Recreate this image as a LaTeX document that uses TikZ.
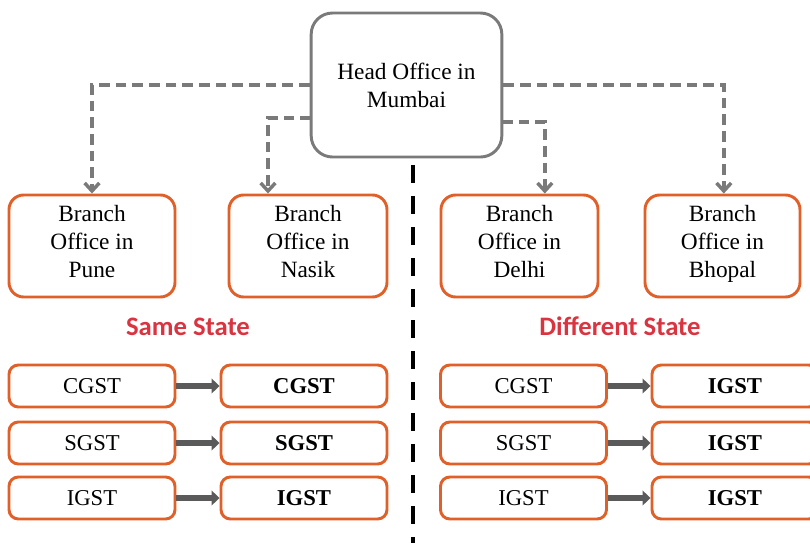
\documentclass[tikz,border=0pt]{standalone}
\usepackage{fontspec}
\setmainfont{Liberation Serif}
\newfontfamily\statefont{Carlito}
\usetikzlibrary{arrows.meta, positioning}

\definecolor{boxorange}{HTML}{E0602A}
\definecolor{linkgray}{HTML}{7A7A7A}
\definecolor{fatgray}{HTML}{5A5A5A}
\definecolor{statered}{HTML}{D9343F}

\tikzset{
  head/.style={draw=linkgray, line width=2.2pt, rounded corners=16pt, align=center,
    minimum width=143pt, minimum height=108pt, font=\fontsize{17.5}{21}\selectfont},
  office/.style={draw=boxorange, line width=2.2pt, rounded corners=11pt, align=center,
    minimum height=76.5pt, inner sep=0pt, font=\fontsize{17.5}{21}\selectfont,
    execute at end node=\strut},
  tax/.style={draw=boxorange, line width=2.2pt, rounded corners=7pt,
    minimum width=124.5pt, minimum height=31.5pt, font=\fontsize{17}{20}\selectfont},
  link/.style={draw=linkgray, line width=2.6pt, dash pattern=on 8pt off 4.5pt,
    -{Straight Barb[length=6pt,width=11pt]}},
  fat/.style={draw=fatgray, line width=5pt, -{Triangle[length=6pt,width=11pt]}},
  statehead/.style={text=statered, font=\statefont\bfseries\fontsize{20}{24}\selectfont}
}

\begin{document}
\begin{tikzpicture}[x=0.75pt, y=-0.75pt]
\clip (0,0) rectangle (810,543);

\node[head] (ho) at (406.5,85) {Head Office in\\Mumbai};
\coordinate (hoL) at (311,118);
\coordinate (hoR) at (502,122);

% branches
\node[office, minimum width=124.5pt] (pune)   at (92,246)    {Branch\\Office in\\Pune};
\node[office, minimum width=118.5pt] (nasik)  at (308,246)   {Branch\\Office in\\Nasik};
\node[office, minimum width=117.75pt] (delhi) at (519.5,246) {Branch\\Office in\\Delhi};
\node[office, minimum width=116.25pt] (bhopal) at (722.5,246) {Branch\\Office in\\Bhopal};

\draw[link] (ho.west) -| (pune.north);
\draw[link] (hoL) -| ([xshift=-30pt]nasik.north);
\draw[link] (hoR) -| ([xshift=19pt]delhi.north);
\draw[link] (ho.east) -| ([xshift=1pt]bhopal.north);

% divider
\draw[line width=3pt, dash pattern=on 13.5pt off 9.75pt] (413,165) -- (413,543);

\node[statehead] (same) at (188,327) {Same State};
\node[statehead] (diff) at (620,326) {Different State};

% tax rows
\foreach \n/\y/\a/\b/\c in {1/386/CGST/CGST/IGST, 2/443/SGST/SGST/IGST, 3/498/IGST/IGST/IGST}{
  \node[tax] (sa\n) at (92,\y)    {\a};
  \node[tax] (sb\n) at (304,\y)   {\textbf{\b}};
  \node[tax] (da\n) at (523.5,\y) {\a};
  \node[tax] (db\n) at (735,\y)   {\textbf{\c}};
  \draw[fat] (sa\n) -- (sb\n);
  \draw[fat] (da\n) -- (db\n);
}
\end{tikzpicture}
\end{document}
